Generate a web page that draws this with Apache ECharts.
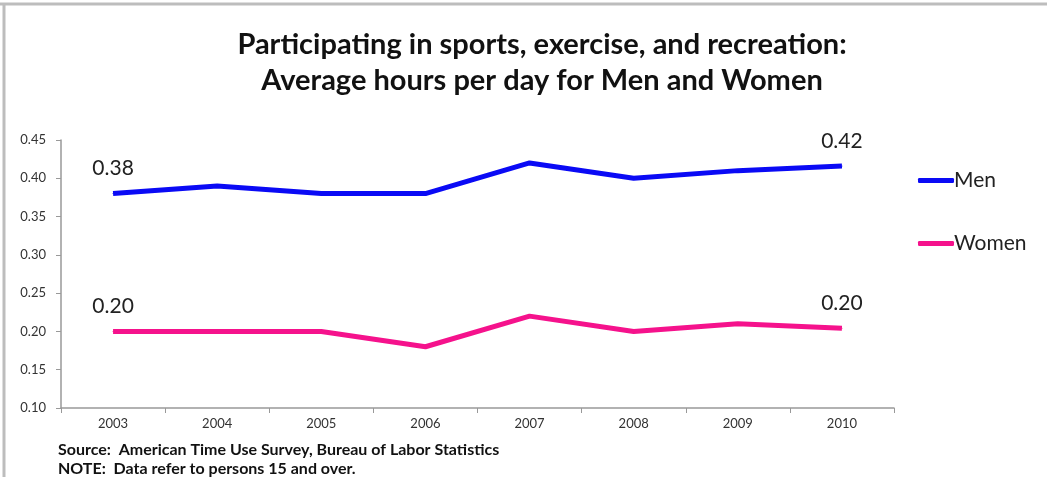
<!DOCTYPE html>
<html>
<head>
<meta charset="utf-8">
<script src="https://cdn.jsdelivr.net/npm/echarts@6/dist/echarts.min.js"></script>
<style>
html, body { margin: 0; padding: 0; background: #fff; }
#main { width: 1047px; height: 477px; }
</style>
</head>
<body>
<div id="main"></div>
<script>
var years = ['2003', '2004', '2005', '2006', '2007', '2008', '2009', '2010'];
var men = [0.38, 0.39, 0.38, 0.38, 0.42, 0.40, 0.41, 0.416];
var women = [0.20, 0.20, 0.20, 0.18, 0.22, 0.20, 0.21, 0.204];

var font = 'Lato, "Open Sans", sans-serif';

// only first and last points get a value label
function endLabel(p) {
	if (p.dataIndex === 0 || p.dataIndex === years.length - 1) {
		return p.value.toFixed(2);
	}
	return '';
}

var myChart = echarts.init(document.getElementById('main'));
myChart.setOption({
	animation : false,
	textStyle : { fontFamily : font },
	title : {
		text : 'Participating in sports, exercise, and recreation:\nAverage hours per day for Men and Women',
		left : 537,
		textAlign : 'center',
		top : 22,
		textStyle : {
			fontFamily : font,
			fontSize : 29,
			fontWeight : 'bold',
			color : '#111',
			lineHeight : 36
		}
	},
	legend : {
		orient : 'vertical',
		left : 913,
		top : 165,
		itemWidth : 36,
		itemHeight : 5,
		itemGap : 42,
		icon : 'roundRect',
		textStyle : { fontFamily : font, fontSize : 21, color : '#222', padding : [0, 0, 0, -5] },
		data : ['Men', 'Women']
	},
	grid : { left : 61, right : 153, top : 140, bottom : 69 },
	xAxis : {
		type : 'category',
		data : years,
		boundaryGap : true,
		axisLine : { lineStyle : { color : '#999', width : 1.5 } },
		axisTick : { show : true, length : 5, lineStyle : { color : '#999' } },
		axisLabel : { fontFamily : font, fontSize : 13, color : '#333', margin : 9 }
	},
	yAxis : {
		type : 'value',
		min : 0.10,
		max : 0.45,
		interval : 0.05,
		splitLine : { show : false },
		axisLine : { show : true, lineStyle : { color : '#999', width : 1.5 } },
		axisTick : { show : true, length : 5, lineStyle : { color : '#999' } },
		axisLabel : {
			fontFamily : font, fontSize : 13, color : '#333', margin : 15,
			formatter : function(v) { return v.toFixed(2); }
		}
	},
	graphic : [
		{ type : 'line', shape : { x1 : 0, y1 : 4, x2 : 1047, y2 : 4 }, style : { stroke : '#bdbdbd', lineWidth : 3 } },
		{ type : 'line', shape : { x1 : 4, y1 : 3, x2 : 4, y2 : 477 }, style : { stroke : '#bdbdbd', lineWidth : 3 } },
		{
			type : 'text', left : 58, top : 440,
			style : {
				text : 'Source:  American Time Use Survey, Bureau of Labor Statistics\nNOTE:  Data refer to persons 15 and over.',
				font : 'bold 16px ' + font, fill : '#111', lineHeight : 19
			}
		}
	],
	series : [ {
		name : 'Men',
		type : 'line',
		data : men,
		symbol : 'circle',
		symbolSize : 1,
		lineStyle : { color : '#0a0af5', width : 5 },
		itemStyle : { color : '#0a0af5' },
		label : { show : true, position : 'top', distance : 14, fontSize : 21, color : '#222', fontFamily : font, formatter : endLabel }
	}, {
		name : 'Women',
		type : 'line',
		data : women,
		symbol : 'circle',
		symbolSize : 1,
		lineStyle : { color : '#f5128c', width : 5 },
		itemStyle : { color : '#f5128c' },
		label : { show : true, position : 'top', distance : 14, fontSize : 21, color : '#222', fontFamily : font, formatter : endLabel }
	} ]
});
</script>
</body>
</html>
